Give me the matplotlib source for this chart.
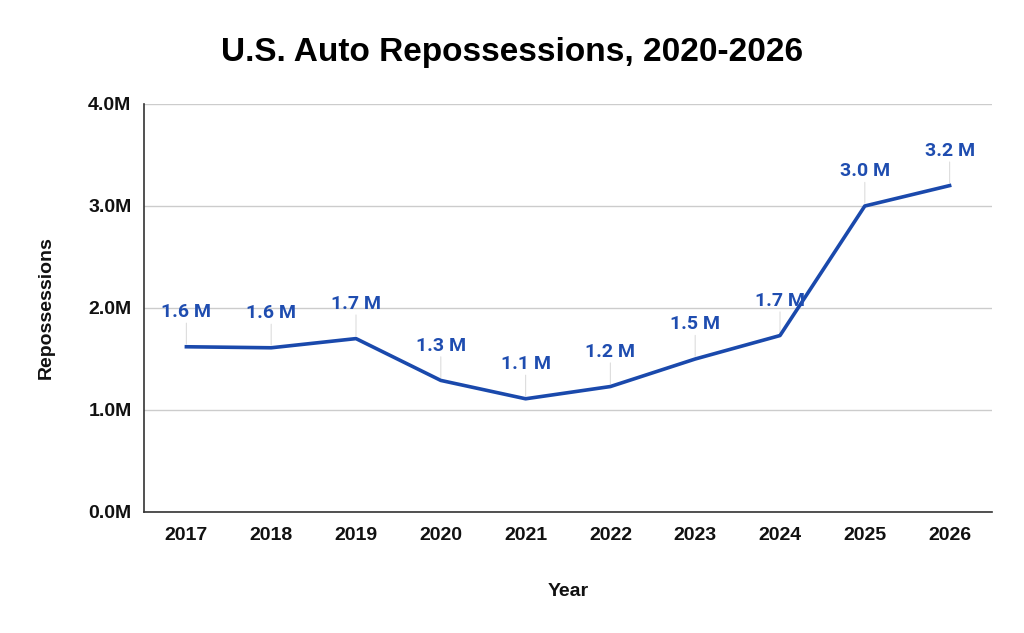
import matplotlib.pyplot as plt
import numpy as np

# data
years = ["2017", "2018", "2019", "2020", "2021", "2022", "2023", "2024", "2025", "2026"]
repos_m = [1.62, 1.61, 1.70, 1.29, 1.11, 1.23, 1.50, 1.73, 3.00, 3.20]
point_labels = ["1.6 M", "1.6 M", "1.7 M", "1.3 M", "1.1 M", "1.2 M", "1.5 M", "1.7 M", "3.0 M", "3.2 M"]
y_ticks = [0, 1, 2, 3, 4]
y_tick_labels = ["0.0M", "1.0M", "2.0M", "3.0M", "4.0M"]

plt.rcParams["font.family"] = ["Liberation Sans", "DejaVu Sans"]

line_color = "#1a49ac"
label_color = "#1f4db0"
text_color = "#111111"

fig = plt.figure(figsize=(10.24, 6.33), dpi=100)
ax = fig.add_axes([144 / 1024, 1 - 512 / 633, 848 / 1024, 408 / 633])

x = np.arange(len(years))
ax.plot(x, repos_m, color=line_color, linewidth=2.6, solid_joinstyle="round", zorder=3)

# leader lines and value labels
for xi, yi, lab in zip(x, repos_m, point_labels):
    ax.annotate("", xy=(xi, yi), xytext=(0, 19), textcoords="offset points",
                arrowprops=dict(arrowstyle="-", color="#dddddd", lw=0.8), zorder=2)
    ax.annotate(lab, xy=(xi, yi), xytext=(0, 25), textcoords="offset points",
                ha="center", va="center", color=label_color, fontsize=14,
                fontweight="bold", family=["Roboto", "DejaVu Sans"], zorder=4)

ax.set_xlim(-0.5, len(years) - 0.5)
ax.set_ylim(0, 4)
ax.set_xticks(x)
ax.set_xticklabels(years, fontsize=14, fontweight="bold", color=text_color)
ax.set_yticks(y_ticks)
ax.set_yticklabels(y_tick_labels, fontsize=14, fontweight="bold", color=text_color)
ax.tick_params(axis="y", length=0, pad=9)
ax.tick_params(axis="x", length=0, pad=11)
ax.grid(axis="y", color="#cccccc", linewidth=1)
ax.set_axisbelow(True)
for s in ["top", "right"]:
    ax.spines[s].set_visible(False)
for s in ["left", "bottom"]:
    ax.spines[s].set_color("#333333")
    ax.spines[s].set_linewidth(1.2)

ax.set_xlabel("Year", fontsize=14, fontweight="bold", color=text_color, labelpad=28)
ax.set_ylabel("Repossessions", fontsize=14, fontweight="bold", color=text_color, labelpad=24)

fig.text(0.5, 1 - 52 / 633, "U.S. Auto Repossessions, 2020-2026", ha="center", va="center",
         fontsize=24, fontweight="bold", color="#000000")

fig.savefig("out.png", dpi=100, facecolor="white")
